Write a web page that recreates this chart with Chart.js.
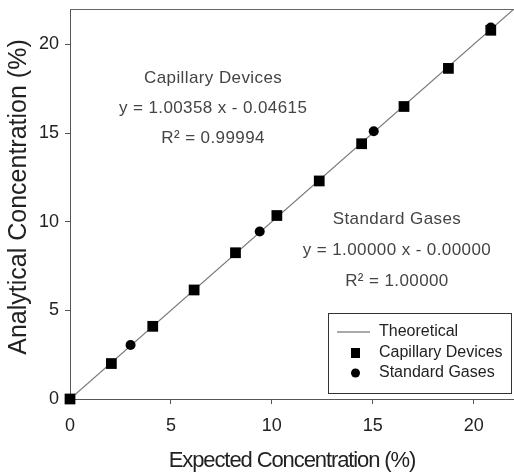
<!DOCTYPE html>
<html>
<head>
<meta charset="utf-8">
<script src="https://cdn.jsdelivr.net/npm/chart.js@4.4.0/dist/chart.umd.min.js"></script>
<style>
  html, body { margin: 0; padding: 0; background: #fff; overflow: hidden; }
  #contenedor { width: 514px; height: 473px; }
  canvas { display: block; }
</style>
</head>
<body>
<div id="contenedor"><canvas id="grafico"></canvas></div>
<script>
// ------- datos -------
const capilarX = [0, 2.05, 4.1, 6.15, 8.2, 10.25, 12.35, 14.45, 16.55, 18.75, 20.85];
const capilarY = [0, 2.0, 4.1, 6.15, 8.25, 10.35, 12.3, 14.4, 16.5, 18.65, 20.8];
const gasesX = [3.0, 9.4, 15.05, 20.85];
const gasesY = [3.05, 9.45, 15.1, 20.95];
const teoricoX = [0, 22];
const teoricoY = [0, 22];
const ticksEje = [0, 5, 10, 15, 20];
const nombres = ['Theoretical', 'Capillary Devices', 'Standard Gases'];
const textoCapilar = ['Capillary Devices', 'y = 1.00358 x - 0.04615', 'R\u00B2 = 0.99994'];
const textoGases = ['Standard Gases', 'y = 1.00000 x - 0.00000', 'R\u00B2 = 1.00000'];
const tituloX = 'Expected Concentration (%)';
const tituloY = 'Analytical Concentration (%)';

const FUENTE = '"Liberation Sans", Arial, sans-serif';

const puntos = (xs, ys) => xs.map((x, i) => ({ x: x, y: ys[i] }));

// ------- plugin: marco superior, titulos, anotaciones y leyenda -------
const extras = {
  id: 'extras',
  afterDraw(chart) {
    const { ctx, chartArea, scales } = chart;
    const ca = chartArea;
    ctx.save();

    // linea superior del marco
    ctx.strokeStyle = '#666';
    ctx.lineWidth = 1;
    ctx.beginPath();
    ctx.moveTo(ca.left, ca.top + 0.5);
    ctx.lineTo(ca.right, ca.top + 0.5);
    ctx.stroke();

    // titulos de ejes
    ctx.fillStyle = '#222';
    ctx.textAlign = 'center';
    ctx.textBaseline = 'alphabetic';
    ctx.font = '22px ' + FUENTE;
    if ('letterSpacing' in ctx) ctx.letterSpacing = '-1.1px';
    ctx.fillText(tituloX, (ca.left + ca.right) / 2, 467);
    if ('letterSpacing' in ctx) ctx.letterSpacing = '0px';
    ctx.save();
    ctx.translate(26, 197);
    ctx.rotate(-Math.PI / 2);
    ctx.font = '25px ' + FUENTE;
    ctx.fillText(tituloY, 0, 0);
    ctx.restore();

    // anotaciones de regresion
    ctx.fillStyle = '#444';
    ctx.font = '17px ' + FUENTE;
    if ('letterSpacing' in ctx) ctx.letterSpacing = '0.4px';
    const bloque = (lineas, dx, dy, salto) => {
      const px = scales.x.getPixelForValue(dx);
      const py = scales.y.getPixelForValue(dy);
      lineas.forEach((t, i) => ctx.fillText(t, px, py + i * salto));
    };
    bloque(textoCapilar, 7.09, 17.82, 30);
    bloque(textoGases, 16.2, 9.87, 31);
    if ('letterSpacing' in ctx) ctx.letterSpacing = '0px';

    // leyenda
    const lx = ca.right - 186, ly = ca.bottom - 86, lw = 183, lh = 80;
    ctx.fillStyle = '#fff';
    ctx.fillRect(lx, ly, lw, lh);
    ctx.strokeStyle = '#333';
    ctx.strokeRect(lx + 0.5, ly + 0.5, lw, lh);

    const filas = [ly + 19, ly + 40, ly + 60];
    ctx.strokeStyle = '#555';
    ctx.beginPath();
    ctx.moveTo(lx + 9, filas[0]);
    ctx.lineTo(lx + 42, filas[0]);
    ctx.stroke();
    ctx.fillStyle = '#000';
    ctx.fillRect(lx + 23, filas[1] - 5, 9, 10);
    ctx.beginPath();
    ctx.arc(lx + 27.5, filas[2], 4.5, 0, Math.PI * 2);
    ctx.fill();

    ctx.fillStyle = '#222';
    ctx.font = '16px ' + FUENTE;
    ctx.textAlign = 'left';
    ctx.textBaseline = 'middle';
    nombres.forEach((n, i) => ctx.fillText(n, lx + 51, filas[i]));

    ctx.restore();
  }
};

// ------- configuracion de ejes -------
function ejeBase(eje) {
  return {
    type: 'linear',
    min: 0,
    max: 22,
    afterBuildTicks: s => { s.ticks = ticksEje.map(v => ({ value: v })); },
    afterFit: s => {
      if (eje === 'x') s.height = 74; else s.width = 70;
      // sin reserva extra para las etiquetas de los extremos
      s.paddingTop = 0; s.paddingBottom = 0;
      s.paddingLeft = 0; s.paddingRight = 0;
    },
    ticks: {
      color: '#222',
      font: { size: 18, family: FUENTE },
      padding: eje === 'x' ? 11 : 6
    },
    grid: { drawOnChartArea: false, drawTicks: true, tickLength: 5, color: '#555' },
    border: { display: true, color: '#555', width: 1 }
  };
}

new Chart(document.getElementById('grafico'), {
  type: 'scatter',
  data: {
    datasets: [
      {
        type: 'line',
        label: nombres[0],
        data: puntos(teoricoX, teoricoY),
        borderColor: '#777',
        borderWidth: 1.2,
        pointRadius: 0,
        order: 3
      },
      {
        label: nombres[2],
        data: puntos(gasesX, gasesY),
        pointStyle: 'circle',
        pointRadius: 5,
        backgroundColor: '#000',
        borderColor: '#000',
        borderWidth: 0,
        clip: false,
        order: 2
      },
      {
        label: nombres[1],
        data: puntos(capilarX, capilarY),
        pointStyle: 'rect',
        pointRadius: 7.6,
        backgroundColor: '#000',
        borderColor: '#000',
        borderWidth: 0,
        clip: false,
        order: 1
      }
    ]
  },
  options: {
    responsive: true,
    maintainAspectRatio: false,
    animation: false,
    devicePixelRatio: 1,
    layout: { autoPadding: false, padding: { top: 9, right: 0, left: 0, bottom: 0 } },
    plugins: {
      legend: { display: false },
      tooltip: { enabled: false }
    },
    scales: {
      x: ejeBase('x'),
      y: ejeBase('y')
    }
  },
  plugins: [extras]
});
</script>
</body>
</html>
